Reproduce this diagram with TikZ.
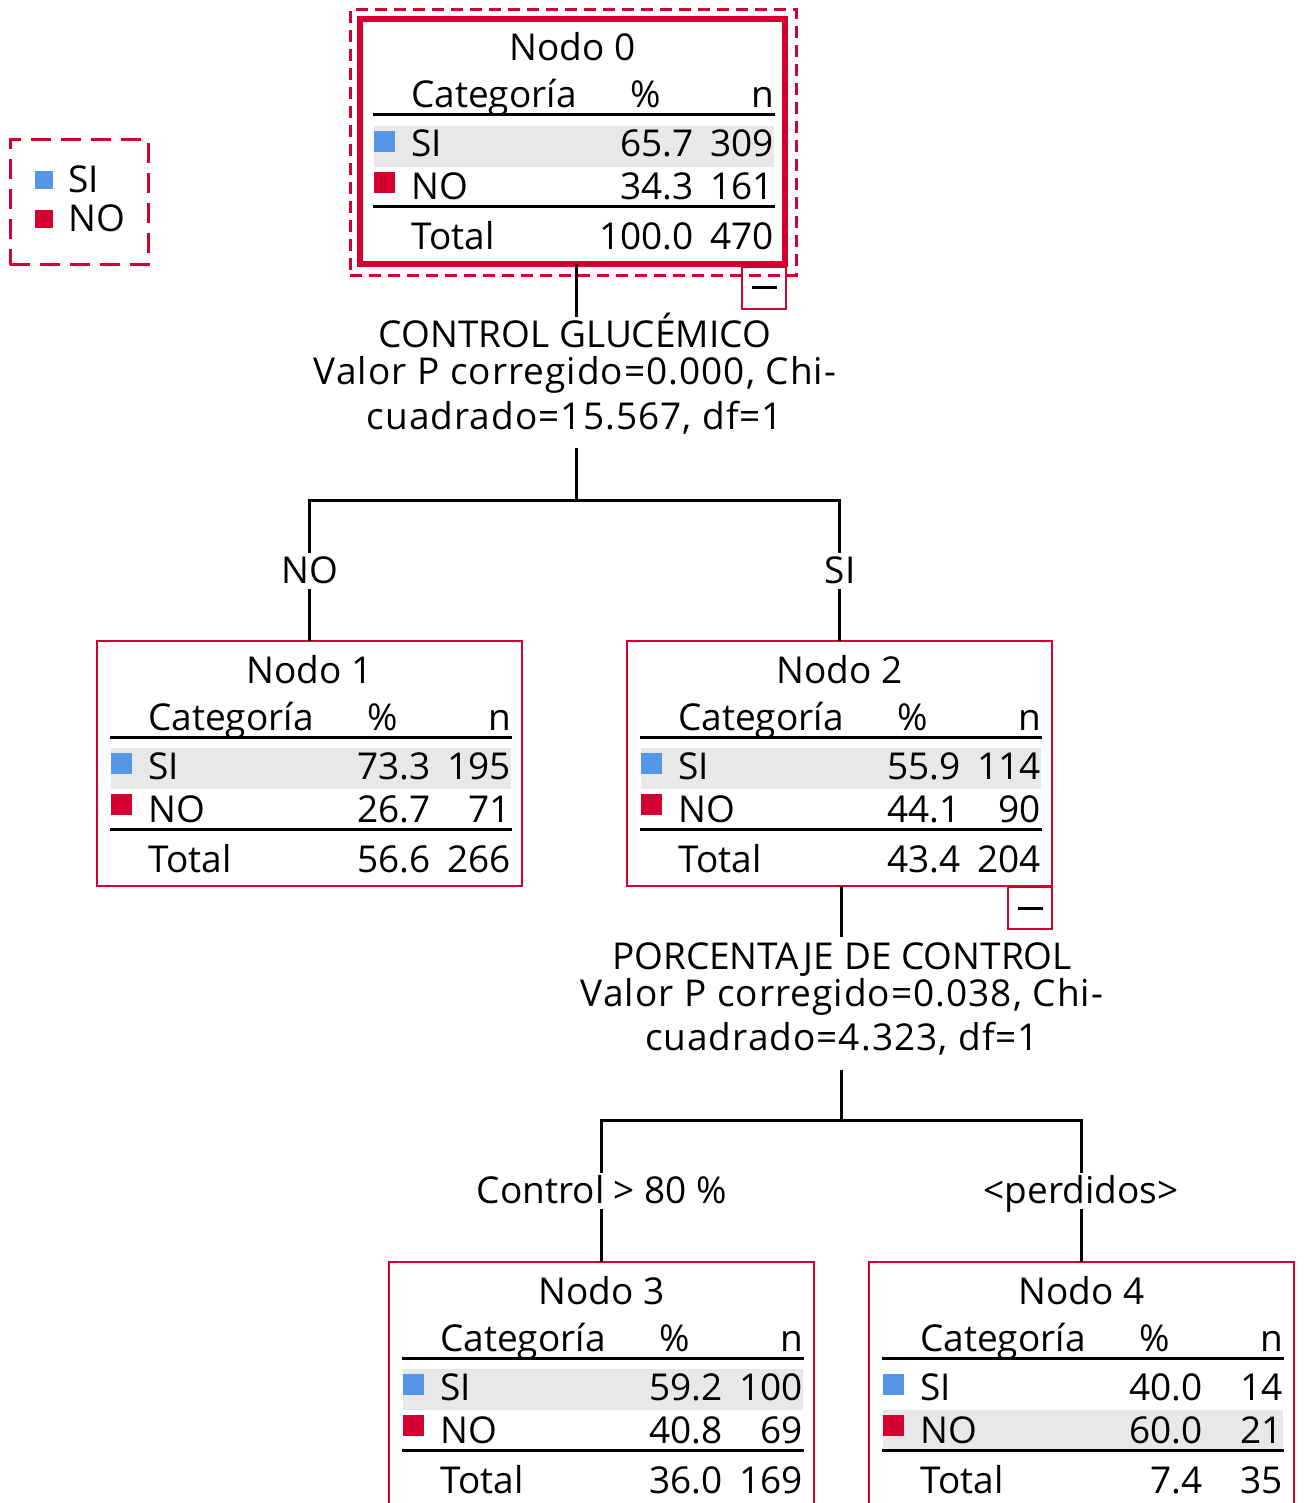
\documentclass[tikz,border=0pt]{standalone}
\usepackage{fontspec}
\setmainfont{Open Sans}
\newfontfamily\spacedfont[LetterSpace=2.8]{Open Sans}
\definecolor{spred}{RGB}{213,0,50}
\definecolor{spblue}{RGB}{85,150,230}
\definecolor{spgray}{RGB}{232,232,232}
\tikzset{
  nodebox/.style={draw=spred, line width=2.5pt, minimum width=425pt, minimum height=245pt, inner sep=0pt, outer sep=0pt, anchor=north west},
  thisbox/.style={},
  txt/.style={inner sep=0pt, font=\fontsize{37}{44}\selectfont},
  stxt/.style={inner sep=0pt, anchor=base, font=\spacedfont\fontsize{37}{44}\selectfont},
  tl/.style={txt, anchor=base west},
  tc/.style={txt, anchor=base},
  tr/.style={txt, anchor=base east},
  rulel/.style={line width=3pt, black},
  tree/.style={line width=3pt, black},
  brlabel/.style={txt, fill=white, text height=30pt, text depth=6pt, anchor=base},
  minusbox/.style={draw=spred, line width=2.5pt, minimum width=44pt, minimum height=42pt, inner sep=0pt, outer sep=0pt, anchor=north east},
  minusbar/.style={line width=3pt, black},
}
\newcommand\hlrow{1}
% #1 number, #2 x, #3 y, #4 pSI, #5 nSI, #6 pNO, #7 nNO, #8 pT, #9 nT
\newcommand\spssnode[9]{%
  \begin{scope}[shift={(#2,#3)}]
    \ifnum\hlrow=1
      \fill[spgray] (14,107) rectangle (414,148);
    \else
      \fill[spgray] (14,148) rectangle (414,187);
    \fi
    \node[nodebox,thisbox] (n#1) at (0,0) {};
    \node[tc] (n#1title) at (212.5,42) {Nodo #1};
    \node[tl] (n#1hc) at (51,89) {Categoría};
    \node[tc] (n#1hp) at (286,89) {\%};
    \node[tr] (n#1hn) at (414,89) {n};
    \draw[rulel] (13,96) -- (415,96);
    \fill[spblue] (14,112) rectangle (35,133);
    \node[tl] (n#1sl) at (51,138) {SI};
    \node[tr] (n#1sp) at (334,138) {#4};
    \node[tr] (n#1sn) at (414,138) {#5};
    \fill[spred] (14,153) rectangle (35,174);
    \node[tl] (n#1nl) at (51,181) {NO};
    \node[tr] (n#1np) at (334,181) {#6};
    \node[tr] (n#1nn) at (414,181) {#7};
    \draw[rulel] (13,188) -- (415,188);
    \node[tl] (n#1tl) at (51,231) {Total};
    \node[tr] (n#1tp) at (334,231) {#8};
    \node[tr] (n#1tn) at (414,231) {#9};
  \end{scope}}
\begin{document}
\begin{tikzpicture}[x=1pt,y=-1pt]
\useasboundingbox (0,0) rectangle (1304,1503);
\clip (0,0) rectangle (1304,1503);
\fill[white] (0,0) rectangle (1304,1503);

% legend
\node[draw=spred, line width=3pt, dash pattern=on 20pt off 10pt, minimum width=138pt, minimum height=125pt, inner sep=0pt, outer sep=0pt, anchor=north west] (legend) at (10,140) {};
\fill[spblue] (35,171) rectangle (53,189);
\fill[spred] (35,210) rectangle (53,228);
\node[tl] (legsi) at (68,193) {SI};
\node[tl] (legno) at (68,232) {NO};

% nodes
\tikzset{thisbox/.style={line width=6pt}}
\spssnode{0}{360}{19}{65.7}{309}{34.3}{161}{100.0}{470}
\tikzset{thisbox/.style={}}
\spssnode{1}{97}{641}{73.3}{195}{26.7}{71}{56.6}{266}
\spssnode{2}{627}{641}{55.9}{114}{44.1}{90}{43.4}{204}
\spssnode{3}{389}{1262}{59.2}{100}{40.8}{69}{36.0}{169}
\renewcommand\hlrow{2}
\spssnode{4}{869}{1262}{40.0}{14}{60.0}{21}{7.4}{35}

% selection frame around node 0
\node[draw=spred, line width=3pt, dash pattern=on 12pt off 7pt, minimum width=446pt, minimum height=266pt, inner sep=0pt, outer sep=0pt, anchor=north west] (sel) at (350,10) {};

% minus boxes
\node[minusbox] (m0) at (786,267) {};
\draw[minusbar] ([xshift=-12.5pt]m0.center) -- ([xshift=12.5pt]m0.center);
\node[minusbox] (m2) at (1052,887) {};
\draw[minusbar] ([xshift=-12.5pt]m2.center) -- ([xshift=12.5pt]m2.center);

% split 0
\coordinate (s0top) at (576,317);
\coordinate (s0bot) at (576,448);
\coordinate (j0) at (576,500);
\node[tc] (s0a) at (575,347) {CONTROL GLUCÉMICO};
\node[stxt] (s0b) at (575,384) {Valor P corregido=0.000, Chi-};
\node[stxt] (s0c) at (575,429) {cuadrado=15.567, df=1};
\draw[tree] (s0top |- n0.south) -- (s0top);
\draw[tree] (s0bot) -- (j0);
\draw[tree] (n1.north) -- (n1.north |- j0) -- (n2.north |- j0) -- (n2.north);
\node[brlabel] (l1) at (310,583) {NO};
\node[brlabel] (l2) at (840,583) {SI};

% split 2
\coordinate (s2top) at (841,937);
\coordinate (s2bot) at (841,1070);
\coordinate (j2) at (841,1120);
\node[tc] (s2a) at (842,969) {PORCENTAJE DE CONTROL};
\node[stxt] (s2b) at (842,1006) {Valor P corregido=0.038, Chi-};
\node[stxt] (s2c) at (842,1050) {cuadrado=4.323, df=1};
\draw[tree] (s2top |- n2.south) -- (s2top);
\draw[tree] (s2bot) -- (j2);
\draw[tree] (n3.north) -- (n3.north |- j2) -- (n4.north |- j2) -- (n4.north);
\node[brlabel] (l3) at (602,1203) {Control > 80 \%};
\node[brlabel] (l4) at (1081,1203) {<perdidos>};
\end{tikzpicture}
\end{document}
